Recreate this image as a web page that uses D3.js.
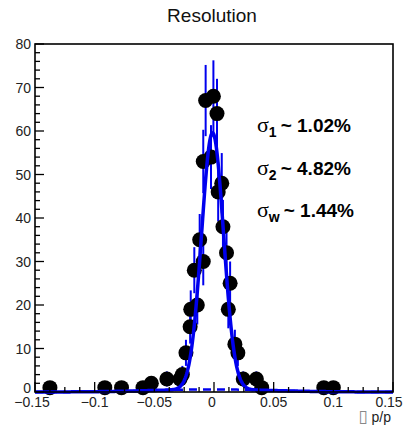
<!DOCTYPE html>
<html><head><meta charset="utf-8">
<script src="https://cdn.jsdelivr.net/npm/d3@7"></script>
<style>body{margin:0;background:#fff}svg{display:block}</style>
</head><body><svg id="c" width="405" height="426"></svg>
<script>
// ---- data ----
const binCenters = [-0.1375,-0.0915,-0.0775,-0.0595,-0.0525,-0.0395,-0.0285,-0.0265,-0.0235,-0.0200,-0.0195,-0.0165,-0.0140,-0.0120,-0.0090,-0.0090,-0.0070,-0.0025,-0.0005,0.0025,0.0035,0.0065,0.0075,0.0105,0.0120,0.0135,0.0175,0.0200,0.0245,0.0355,0.0400,0.0920,0.1000];
const counts     = [1,1,1,1,2,3,3,4,9,15,19,28,20,35,30,53,67,54,68,64,46,48,38,32,19,25,11,9,3,3,1,1,1];
const xTickValues = [-0.15,-0.1,-0.05,0,0.05,0.1,0.15];
const xTickLabels = ["\u22120.15","\u22120.1","\u22120.05","0","0.05","0.1","0.15"];
const yTickValues = [0,10,20,30,40,50,60,70,80];
const yTickLabels = ["0","10","20","30","40","50","60","70","80"];
// double-Gaussian fit parameters
const fitMean = -0.0012, fitAmp1 = 59, fitSigma1 = 0.0092, fitAmp2 = 0.6, fitSigma2 = 0.0482;
const annotations = [{sub:"1", val:"~ 1.02%"},{sub:"2", val:"~ 4.82%"},{sub:"w", val:"~ 1.44%"}];
const titleText = "Resolution";
const xTitleBox = "\u25AF";
const xTitle = " p/p";

const svg = d3.select("#c");
const L=35, R=393, T=44, B=392;
const x = d3.scaleLinear().domain([-0.15,0.15]).range([L,R]);
const y = d3.scaleLinear().domain([0,80]).range([B,T]);
const font = "'Liberation Sans', Arial, sans-serif";

svg.append("text").attr("x",212).attr("y",22).attr("text-anchor","middle")
  .attr("font-family",font).attr("font-size",19).attr("fill","#111").text(titleText);

// error bars
const pts = binCenters.map((c,i)=>({x:c,y:counts[i]}));
svg.append("g").selectAll("line").data(pts).join("line")
  .attr("x1",d=>x(d.x)).attr("x2",d=>x(d.x))
  .attr("y1",d=>y(Math.max(0,d.y-Math.sqrt(d.y)))).attr("y2",d=>y(d.y+Math.sqrt(d.y)))
  .attr("stroke","#0000ee").attr("stroke-width",2);

// markers
svg.append("g").selectAll("circle").data(pts).join("circle")
  .attr("cx",d=>x(d.x)).attr("cy",d=>y(d.y)).attr("r",7.5).attr("fill","#000");

// fit curves
const g1 = v => fitAmp1*Math.exp(-0.5*((v-fitMean)/fitSigma1)**2);
const g2 = v => fitAmp2*Math.exp(-0.5*((v-fitMean)/fitSigma2)**2);
const xs = d3.range(0,601).map(i=>-0.15+i*0.0005);
svg.append("path").datum(xs)
  .attr("d",d3.line().x(v=>x(v)).y(v=>y(g2(v))))
  .attr("fill","none").attr("stroke","#0000ee").attr("stroke-width",2.5).attr("stroke-dasharray","8,6");
svg.append("path").datum(xs)
  .attr("d",d3.line().x(v=>x(v)).y(v=>y(g1(v)+g2(v))))
  .attr("fill","none").attr("stroke","#0000ee").attr("stroke-width",3.5);

// frame
svg.append("rect").attr("x",L).attr("y",T).attr("width",R-L).attr("height",B-T)
  .attr("fill","none").attr("stroke","#000").attr("stroke-width",1.6);

// y ticks
const ay = svg.append("g");
d3.range(0,81,2).forEach(v=>{
  const major = v%10===0;
  ay.append("line").attr("x1",L).attr("x2",L+(major?9:5)).attr("y1",y(v)).attr("y2",y(v))
    .attr("stroke","#000").attr("stroke-width",1.3);
});
yTickValues.forEach((v,i)=>{
  ay.append("text").attr("x",L-4).attr("y",y(v)+(v===0?1:5)).attr("text-anchor","end")
    .attr("font-family",font).attr("font-size",14).attr("fill","#222").text(yTickLabels[i]);
});
// x ticks
const ax = svg.append("g");
d3.range(0,25).forEach(i=>{
  const v = -0.15+i*0.0125;
  const major = i%4===0;
  ax.append("line").attr("x1",x(v)).attr("x2",x(v)).attr("y1",B).attr("y2",B-(major?10:5))
    .attr("stroke","#000").attr("stroke-width",1.3);
});
const xShift = [-3,0,0,-2,0,0,-4];
xTickValues.forEach((v,i)=>{
  ax.append("text").attr("x",x(v)+xShift[i]).attr("y",407).attr("text-anchor","middle")
    .attr("font-family",font).attr("font-size",14).attr("fill","#222").text(xTickLabels[i]);
});
const xt = svg.append("text").attr("x",391).attr("y",422).attr("text-anchor","end")
  .attr("font-family",font).attr("font-size",14).attr("fill","#222");
xt.append("tspan").attr("font-family","'DejaVu Sans', sans-serif").attr("fill","#888").attr("font-size",17).text(xTitleBox);
xt.append("tspan").text(xTitle);

// annotations
annotations.forEach((a,i)=>{
  const by = 132 + i*42.5;
  const t = svg.append("text").attr("x",257).attr("y",by).attr("fill","#000");
  t.append("tspan").attr("font-family","'Liberation Serif', serif").attr("font-size",22).text("\u03C3");
  t.append("tspan").attr("font-family",font).attr("font-weight","bold").attr("font-size",14).attr("dy",5).text(a.sub);
  t.append("tspan").attr("font-family",font).attr("font-weight","bold").attr("font-size",19).attr("dy",-5).attr("dx",4).text(a.val);
});
</script></body></html>
